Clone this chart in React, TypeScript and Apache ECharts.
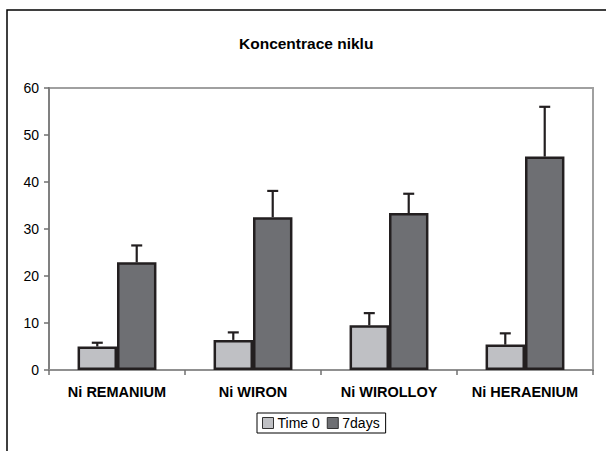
import React, { useEffect, useRef } from "react";
import * as echarts from "echarts";

const categories = ["Ni REMANIUM", "Ni WIRON", "Ni WIROLLOY", "Ni HERAENIUM"];
const seriesNames = ["Time 0", "7days"];
const time0Values = [5.0, 6.4, 9.5, 5.4];
const time0Errors = [0.8, 1.6, 2.6, 2.4];
const days7Values = [22.9, 32.5, 33.4, 45.4];
const days7Errors = [3.6, 5.6, 4.1, 10.6];
const yTicks = { min: 0, max: 60, interval: 10 };
const titleText = "Koncentrace niklu";

const FONT = "'Liberation Sans', Arial, sans-serif";
const BAR_FRAC = 0.29;

function errorSeries(name: string, values: number[], errors: number[], offset: number) {
  return {
    type: "custom",
    name: name + " err",
    z: 5,
    silent: true,
    encode: { x: 0, y: 1 },
    data: values.map((v, i) => [i, v, errors[i]]),
    renderItem: (params: any, api: any) => {
      const cat = api.value(0);
      const val = api.value(1);
      const err = api.value(2);
      const base = api.coord([cat, val]);
      const top = api.coord([cat, val + err]);
      const band = api.size([1, 0])[0];
      const x = base[0] + offset * band;
      const style = { stroke: "#231f20", lineWidth: 2.2 };
      return {
        type: "group",
        children: [
          { type: "line", shape: { x1: x, y1: base[1], x2: x, y2: top[1] }, style },
          { type: "line", shape: { x1: x - 5.5, y1: top[1], x2: x + 5.5, y2: top[1] }, style },
        ],
      };
    },
  };
}

export default function App() {
  const ref = useRef<HTMLDivElement>(null);
  useEffect(() => {
    document.body.style.margin = "0";
    if (!ref.current) return;
    const chart = echarts.init(ref.current, undefined, { renderer: "svg" });
    chart.setOption({
      animation: false,
      backgroundColor: "#fff",
      title: {
        text: titleText,
        left: 239,
        top: 35,
        padding: 0,
        textStyle: { fontFamily: FONT, fontSize: 15.5, fontWeight: "bold", color: "#000" },
      },
      graphic: [
        {
          type: "rect",
          shape: { x: 7, y: 10, width: 800, height: 800 },
          style: { fill: "none", stroke: "#000", lineWidth: 1.5 },
          silent: true,
        },
      ],
      legend: {
        data: seriesNames,
        left: 257,
        top: 413,
        padding: [3, 6, 3, 5],
        itemGap: 7,
        itemWidth: 11,
        itemHeight: 11,
        icon: "rect",
        borderColor: "#000",
        borderWidth: 1,
        backgroundColor: "#fff",
        itemStyle: { borderColor: "#333", borderWidth: 1 },
        textStyle: { fontFamily: FONT, fontSize: 14, color: "#000", padding: [0, 0, 0, -1] },
      },
      grid: {
        left: 49,
        right: 13,
        top: 88,
        bottom: 81,
        show: true,
        borderColor: "#a0a0a0",
        borderWidth: 2,
      },
      xAxis: {
        type: "category",
        data: categories,
        axisLine: { lineStyle: { color: "#909090", width: 2 } },
        axisTick: { show: true, interval: 0, length: 5, lineStyle: { color: "#707070", width: 1.5 } },
        axisLabel: {
          interval: 0,
          fontFamily: FONT,
          fontSize: 14.5,
          fontWeight: "bold",
          color: "#000",
          margin: 14,
        },
      },
      yAxis: {
        type: "value",
        min: yTicks.min,
        max: yTicks.max,
        interval: yTicks.interval,
        splitLine: { show: false },
        axisLine: { show: true, lineStyle: { color: "#808080", width: 2 } },
        axisTick: { show: true, length: 5, lineStyle: { color: "#707070", width: 1.5 } },
        axisLabel: { fontFamily: FONT, fontSize: 14, color: "#000", margin: 10 },
      },
      series: [
        {
          type: "bar",
          name: seriesNames[0],
          data: time0Values,
          barWidth: BAR_FRAC * 100 + "%",
          barGap: "0%",
          itemStyle: { color: "#bfc0c4", borderColor: "#231f20", borderWidth: 2.5 },
        },
        {
          type: "bar",
          name: seriesNames[1],
          data: days7Values,
          barWidth: BAR_FRAC * 100 + "%",
          barGap: "0%",
          itemStyle: { color: "#6e6f73", borderColor: "#231f20", borderWidth: 2.5 },
        },
        errorSeries(seriesNames[0], time0Values, time0Errors, -BAR_FRAC / 2),
        errorSeries(seriesNames[1], days7Values, days7Errors, BAR_FRAC / 2),
      ],
    });
    return () => chart.dispose();
  }, []);
  return <div ref={ref} style={{ width: 606, height: 451 }} />;
}
